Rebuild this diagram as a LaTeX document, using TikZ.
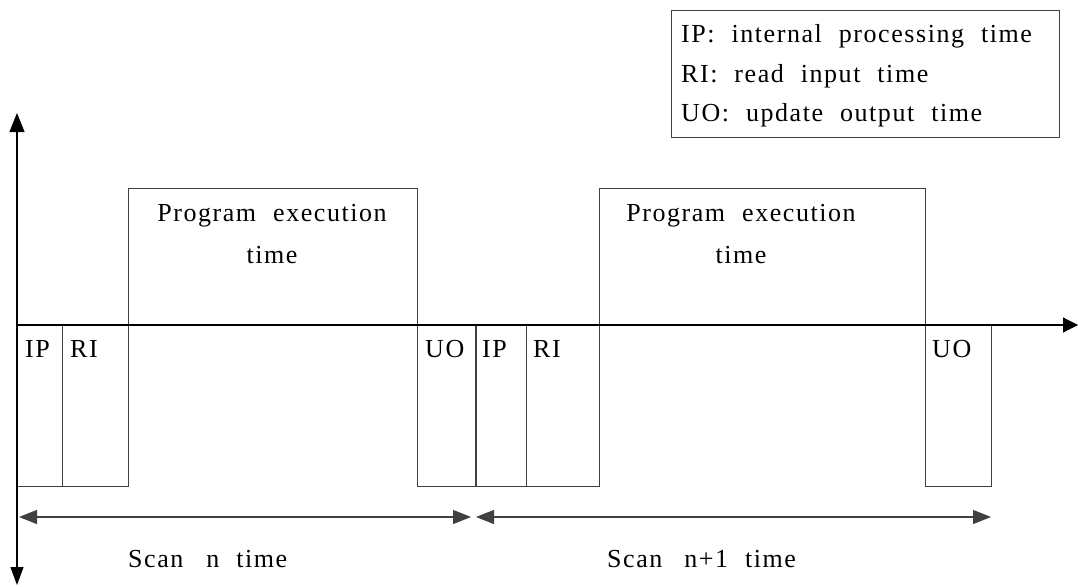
\documentclass[tikz,border=0pt]{standalone}
\usepackage{fontspec}
\setmainfont{Liberation Serif}[LetterSpace=6,WordSpace=2.1]
\usetikzlibrary{arrows.meta}
\begin{document}
\begin{tikzpicture}[x=1pt,y=-1pt,
  ax/.style={line width=1.1pt, black},
  bx/.style={draw=black!75, line width=1.1pt, inner sep=0pt, anchor=north west},
  lbl/.style={anchor=base west, inner sep=0pt, font=\fontsize{26}{30}\selectfont},
  dbl/.style={ax, draw=black!75, {Triangle[length=18pt,width=14pt]}-{Triangle[length=18pt,width=14pt]}}
]
\useasboundingbox (0,0) rectangle (1078,586);
% boxes below axis
\node[bx, minimum width=45pt, minimum height=161pt] (ip1) at (17,325) {};
\node[bx, minimum width=66pt, minimum height=161pt] (ri1) at (62,325) {};
\node[bx, minimum width=289pt, minimum height=137pt] (pe1) at (128,188) {};
\node[bx, minimum width=58pt, minimum height=161pt] (uo1) at (417,325) {};
\node[bx, minimum width=50pt, minimum height=161pt] (ip2) at (476,325) {};
\node[bx, minimum width=73pt, minimum height=161pt] (ri2) at (526,325) {};
\node[bx, minimum width=326pt, minimum height=137pt] (pe2) at (599,188) {};
\node[bx, minimum width=66pt, minimum height=161pt] (uo2) at (925,325) {};
% labels
\node[lbl] (tip1) at (25,357) {IP};
\node[lbl] (tri1) at (70,357) {RI};
\node[lbl] (tuo1) at (425,357) {UO};
\node[lbl] (tip2) at (482,357) {IP};
\node[lbl] (tri2) at (533,357) {RI};
\node[lbl] (tuo2) at (932,357) {UO};
\node[lbl, anchor=base] (tpe1) at (272,221) {Program execution};
\node[lbl, anchor=base] (tpt1) at (272,263) {time};
\node[lbl, anchor=base] (tpe2) at (741,221) {Program execution};
\node[lbl, anchor=base] (tpt2) at (741,263) {time};
% axes
\coordinate (o) at (17,325);
\coordinate (xe) at (1078,325);
\coordinate (yt) at (17,113);
\coordinate (yb) at (17,585);
\draw[ax, -{Triangle[length=15pt,width=15pt]}] (o) -- (xe);
\draw[ax, {Triangle[length=18pt,width=13pt]}-{Triangle[length=19pt,width=15pt]}] (yb) -- (yt);
% scan arrows
\coordinate (s1a) at (19,517);
\coordinate (s1b) at (471,517);
\coordinate (s2a) at (476,517);
\coordinate (s2b) at (991,517);
\draw[dbl] (s1a) -- (s1b);
\draw[dbl] (s2a) -- (s2b);
\node[lbl] (sc1) at (128,567) {Scan\hspace{6pt} n time};
\node[lbl] (sc2) at (607,567) {Scan\hspace{5pt} n+1 time};
% legend
\node[draw=black!75, line width=1.1pt, anchor=north west, minimum width=388pt, minimum height=127pt, inner sep=0pt] (leg) at (671,10) {};
\node[lbl] (l1) at (681,42) {IP: internal processing time};
\node[lbl] (l2) at (681,82) {RI: read input time};
\node[lbl] (l3) at (681,121) {UO: update output time};
\end{tikzpicture}
\end{document}
